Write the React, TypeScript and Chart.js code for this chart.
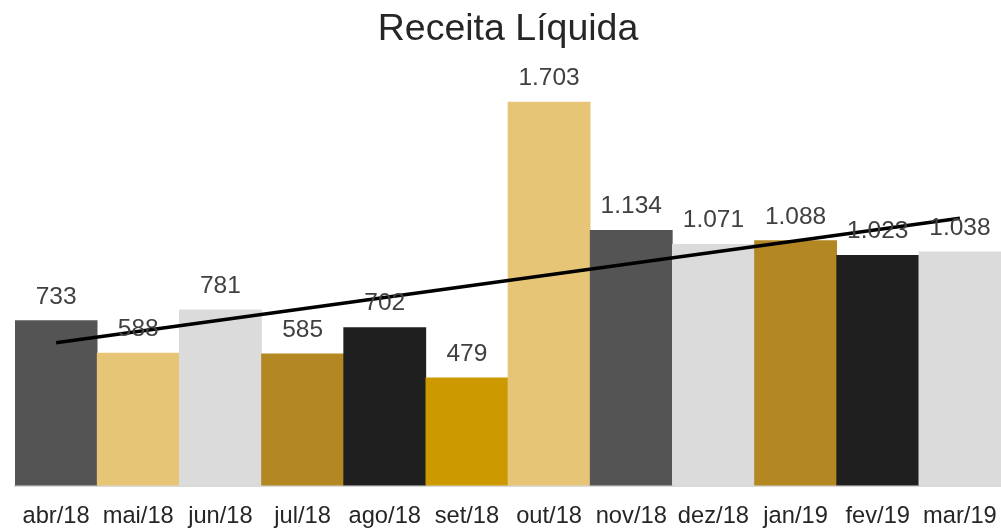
import React, { useEffect, useRef } from "react";
import { Chart, registerables } from "chart.js";

Chart.register(...registerables);

const categories = ["abr/18", "mai/18", "jun/18", "jul/18", "ago/18", "set/18", "out/18", "nov/18", "dez/18", "jan/19", "fev/19", "mar/19"];
const revenue = [733, 588, 781, 585, 702, 479, 1703, 1134, 1071, 1088, 1023, 1038];
const barColors = ["#545454", "#E6C577", "#DBDBDB", "#B38822", "#1F1F1F", "#CC9900", "#E6C577", "#545454", "#DBDBDB", "#B38822", "#1F1F1F", "#DBDBDB"];
const trendStart = 634;
const trendEnd = 1187;
const titleText = "Receita Líquida";

const fmt = (v: number) => v.toString().replace(/\B(?=(\d{3})+(?!\d))/g, ".");

const labelPlugin = {
  id: "barLabels",
  afterDatasetsDraw(chart: any) {
    const ctx = chart.ctx;
    const meta = chart.getDatasetMeta(0);
    ctx.save();
    ctx.font = "24.5px 'Liberation Sans', Arial, sans-serif";
    ctx.fillStyle = "#404040";
    ctx.textAlign = "center";
    ctx.textBaseline = "alphabetic";
    meta.data.forEach((bar: any, i: number) => {
      ctx.fillText(fmt(revenue[i]), bar.x, bar.y - 17);
    });
    ctx.restore();
  },
};

export default function App() {
  const ref = useRef<HTMLCanvasElement>(null);
  useEffect(() => {
    if (!ref.current) return;
    const chart = new Chart(ref.current, {
      type: "bar",
      data: {
        labels: categories,
        datasets: [
          {
            type: "bar",
            data: revenue,
            backgroundColor: barColors,
            categoryPercentage: 1,
            barPercentage: 1,
            order: 2,
          } as any,
          {
            type: "line",
            data: [
              { x: categories[0], y: trendStart },
              { x: categories[categories.length - 1], y: trendEnd },
            ],
            borderColor: "#000000",
            borderWidth: 3.5,
            pointRadius: 0,
            fill: false,
            order: 1,
          } as any,
        ],
      },
      plugins: [labelPlugin],
      options: {
        animation: false,
        responsive: false,
        layout: { padding: { left: 15, right: 0, top: 0, bottom: -3 } },
        plugins: {
          legend: { display: false },
          tooltip: { enabled: false },
          title: {
            display: true,
            text: titleText,
            color: "#262626",
            font: { family: "'Liberation Sans', Arial, sans-serif", size: 37.5, weight: "normal" },
            padding: { top: 7, bottom: 8 },
          },
        },
        scales: {
          x: {
            grid: { display: false, drawTicks: true, tickLength: 17 },
            border: { display: true, color: "#D9D9D9", width: 2 },
            ticks: {
              color: "#262626",
              font: { family: "'Liberation Sans', Arial, sans-serif", size: 23.7 },
              padding: 0,
              maxRotation: 0,
              autoSkip: false,
            },
          },
          y: {
            display: false,
            min: 0,
            max: 1890,
          },
        },
      },
    });
    return () => chart.destroy();
  }, []);
  return (
    <div style={{ position: "fixed", left: 0, top: 0, width: 1001, height: 528, background: "#fff" }}>
      <canvas ref={ref} width={1001} height={528} />
    </div>
  );
}
